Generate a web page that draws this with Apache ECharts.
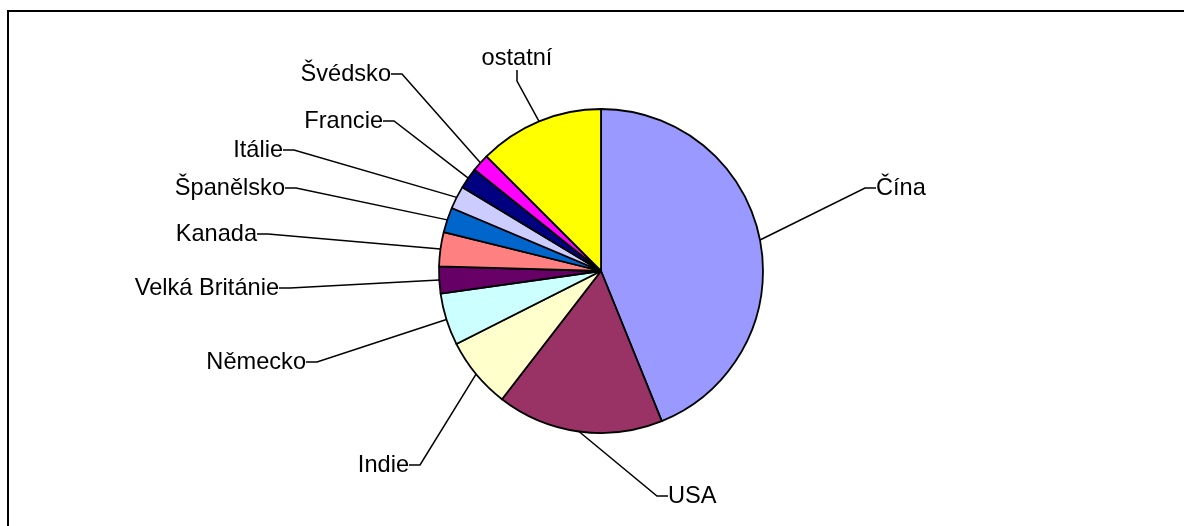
<!DOCTYPE html>
<html><head><meta charset="utf-8">
<script src="https://cdn.jsdelivr.net/npm/echarts/dist/echarts.min.js"></script>
<style>html,body{margin:0;padding:0;background:#fff}#c{width:1184px;height:526px}</style>
</head><body><div id="c"></div>
<script>
// ---- data ----
const categories = ['Čína', 'USA', 'Indie', 'Německo', 'Velká Británie', 'Kanada', 'Španělsko', 'Itálie', 'Francie', 'Švédsko', 'ostatní'];
const shares = [43.9, 16.6, 7.1, 5.2, 2.7, 3.4, 2.5, 2.3, 2.1, 1.75, 12.5];
const colors = ['#9999FF', '#993366', '#FFFFCC', '#CCFFFF', '#660066', '#FF8080', '#0066CC', '#CCCCFF', '#000080', '#FF00FF', '#FFFF00'];

// ---- label layout (text anchor positions, px) ----
const labelAnchors = [
  [876, 188, 'left'], [668, 496, 'left'], [409, 465, 'right'], [306, 362, 'right'],
  [279, 288, 'right'], [257, 234, 'right'], [285, 188, 'right'], [283, 150, 'right'],
  [383, 121, 'right'], [391, 74, 'right'], [517, 58, 'center']
];

const chart = echarts.init(document.getElementById('c'), null, {renderer: 'canvas'});
chart.setOption({
  animation: false,
  backgroundColor: '#ffffff',
  graphic: [{
    type: 'rect', shape: {x: 8, y: 11, width: 1400, height: 700},
    style: {fill: 'none', stroke: '#000', lineWidth: 2}, silent: true, z: -1
  }],
  series: [{
    type: 'pie',
    center: [601, 271],
    radius: 162,
    startAngle: 90,
    clockwise: true,
    avoidLabelOverlap: false,
    itemStyle: {borderColor: '#000', borderWidth: 1.8},
    label: {
      show: true, position: 'outside', color: '#000',
      fontFamily: 'Liberation Sans, Arial, sans-serif', fontSize: 23.6
    },
    labelLine: {show: true, length: 10, length2: 11, minTurnAngle: 0, lineStyle: {color: '#000', width: 1.5}},
    labelLayout: function (params) {
      const a = labelAnchors[params.dataIndex];
      return {x: a[0], y: a[1], align: a[2], verticalAlign: 'middle'};
    },
    emphasis: {disabled: true},
    data: categories.map((n, i) => ({
      name: n, value: shares[i], itemStyle: {color: colors[i]},
      label: n === 'ostatní' ? {padding: [0, 0, 4, 0]} : undefined
    }))
  }]
});
</script>
</body></html>
